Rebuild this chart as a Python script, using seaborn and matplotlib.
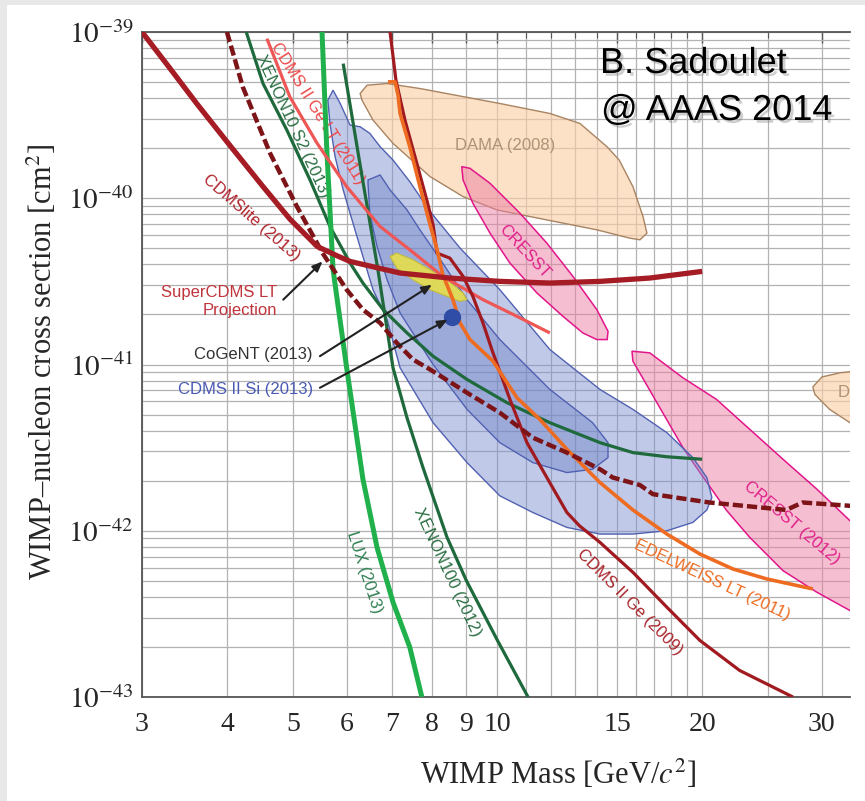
import numpy as np
import matplotlib
matplotlib.use("Agg")
import matplotlib.pyplot as plt
import matplotlib.patheffects as pe
from matplotlib.patches import Rectangle
from matplotlib.colors import to_rgba
from matplotlib.ticker import FixedLocator, FuncFormatter, NullFormatter, LogLocator
import seaborn as sns

# ---------------- data (mass in GeV/c^2, cross section as log10 exponent) ----------------
cdmslite_m = [3.0, 3.30, 3.61, 4.0, 4.52, 4.95, 5.43, 5.80, 6.07, 7.19, 8.51, 10.08, 11.94, 14.15, 16.75, 20.0]
cdmslite_e = [-39.0, -39.22, -39.43, -39.66, -39.93, -40.125, -40.29, -40.345, -40.38, -40.45, -40.48, -40.50,
              -40.51, -40.50, -40.48, -40.44]

supercdms_m = [4.0, 4.22, 4.63, 5.07, 5.53, 6.0, 6.34, 6.72, 7.11, 7.51, 7.96, 9.02, 10.08, 11.27, 12.65, 13.53,
               14.15, 14.78, 16.2, 16.93, 20.5, 26.6, 28.1, 33.0, 35.3]
supercdms_e = [-39.0, -39.33, -39.73, -40.05, -40.33, -40.55, -40.67, -40.75, -40.87, -40.97, -41.03, -41.17, -41.29,
               -41.44, -41.53, -41.59, -41.63, -41.68, -41.725, -41.78, -41.83, -41.875, -41.83, -41.85, -41.85]

xenon10_m = [4.27, 4.52, 4.90, 5.30, 5.67, 6.07, 6.34, 6.79, 7.36, 8.04, 9.02, 10.33, 11.94, 14.15, 15.82, 17.75, 20.0]
xenon10_e = [-39.0, -39.31, -39.59, -39.89, -40.17, -40.39, -40.51, -40.67, -40.81, -40.95, -41.09, -41.23, -41.35,
             -41.47, -41.53, -41.555, -41.57]

xenon100_m = [5.93, 6.28, 6.67, 7.02, 7.36, 7.77, 8.43, 9.0, 10.0, 11.09]
xenon100_e = [-39.19, -39.80, -40.43, -41.02, -41.32, -41.62, -42.04, -42.30, -42.66, -43.0]

lux_m = [5.52, 5.61, 5.73, 6.0, 6.34, 6.65, 7.02, 7.43, 7.74]
lux_e = [-39.0, -39.71, -40.43, -41.02, -41.69, -42.10, -42.43, -42.70, -43.0]

gelt_m = [4.58, 4.95, 5.43, 6.0, 6.72, 7.43, 8.31, 9.52, 10.68, 11.94]
gelt_e = [-39.04, -39.39, -39.67, -39.93, -40.17, -40.31, -40.47, -40.61, -40.71, -40.81]

ge09_m = [6.95, 7.09, 7.31, 7.61, 7.87, 8.04, 8.15, 8.51, 8.90, 9.20, 9.52, 9.81, 10.43, 11.05, 11.82, 12.65, 13.2,
          14.15, 15.82, 17.75, 19.85, 22.7, 27.2]
ge09_e = [-39.0, -39.29, -39.53, -39.79, -40.01, -40.16, -40.33, -40.36, -40.47, -40.59, -40.75, -40.91, -41.21,
          -41.47, -41.68, -41.89, -41.97, -42.07, -42.25, -42.46, -42.66, -42.84, -43.0]

edel_m = [6.90, 7.07, 7.14, 7.19, 7.43, 7.69, 7.96, 8.15, 8.31, 8.60, 8.81, 9.11, 9.85, 10.68, 11.54, 12.65, 14.15,
          15.82, 17.75, 19.85, 22.2, 24.9, 29.1]
edel_e = [-39.30, -39.30, -39.38, -39.49, -39.69, -39.93, -40.16, -40.31, -40.46, -40.61, -40.75, -40.85, -40.98,
          -41.20, -41.33, -41.51, -41.71, -41.875, -42.02, -42.14, -42.23, -42.29, -42.35]

dama_m = [6.28, 6.43, 6.88, 7.69, 10.08, 11.94, 13.22, 14.49, 15.1, 15.82, 16.37, 16.59, 16.2, 15.66, 14.0, 11.16,
          9.98, 8.90, 7.96, 7.02, 6.56, 6.32]
dama_e = [-39.37, -39.32, -39.31, -39.34, -39.43, -39.49, -39.55, -39.69, -39.77, -39.93, -40.11, -40.21, -40.25,
          -40.24, -40.19, -40.11, -40.07, -39.99, -39.87, -39.67, -39.53, -39.41]

dama2_m = [29.1, 30.0, 31.9, 35.3, 35.3, 33.0, 30.8, 29.3]
dama2_e = [-41.135, -41.075, -41.05, -41.03, -41.39, -41.35, -41.27, -41.18]

cresst_m = [8.86, 9.11, 9.75, 10.79, 11.82, 12.91, 14.0, 14.54, 14.5, 14.0, 13.35, 12.48, 11.43, 10.43, 9.75, 9.20, 8.90]
cresst_e = [-39.81, -39.82, -39.91, -40.09, -40.27, -40.47, -40.67, -40.80, -40.85, -40.85, -40.81, -40.71, -40.57,
            -40.39, -40.21, -40.03, -39.89]

cresst12_m = [15.77, 16.75, 18.74, 21.0, 23.5, 26.3, 29.5, 33.0, 36.5, 36.5, 33.0, 29.5, 26.3, 23.5, 21.7, 19.85,
              18.74, 17.33, 16.4, 15.82]
cresst12_e = [-40.92, -40.93, -41.08, -41.21, -41.39, -41.57, -41.75, -41.94, -42.09, -42.57, -42.48, -42.37, -42.24,
              -42.04, -41.875, -41.65, -41.50, -41.26, -41.09, -40.98]

si_out_m = [5.73, 5.87, 6.07, 6.28, 6.49, 6.72, 7.02, 7.43, 7.96, 8.81, 10.08, 11.94, 14.15, 15.82, 17.75, 19.38,
            20.32, 20.67, 20.32, 19.38, 17.75, 15.82, 14.15, 12.65, 11.27, 10.08, 9.02, 8.04, 7.19, 6.88, 6.56, 6.34,
            6.13, 5.93, 5.77, 5.67, 5.63]
si_out_e = [-39.35, -39.43, -39.56, -39.57, -39.61, -39.69, -39.77, -39.90, -40.08, -40.30, -40.55, -40.91, -41.15,
            -41.27, -41.41, -41.56, -41.68, -41.80, -41.875, -41.95, -42.0, -42.02, -42.02, -41.98, -41.89, -41.79,
            -41.59, -41.35, -41.02, -40.73, -40.55, -40.35, -40.15, -39.95, -39.75, -39.55, -39.41]

si_in_m = [6.45, 6.72, 6.95, 7.36, 7.69, 8.15, 9.02, 10.08, 11.94, 13.8, 14.54, 14.54, 13.8, 12.65, 11.27, 10.08,
           9.02, 8.04, 7.19, 6.88, 6.65, 6.49, 6.45]
si_in_e = [-39.89, -39.86, -39.95, -40.07, -40.19, -40.34, -40.61, -40.85, -41.15, -41.35, -41.47, -41.56, -41.63,
           -41.65, -41.59, -41.47, -41.27, -41.00, -40.69, -40.49, -40.29, -40.09, -39.91]

cogent_m = [6.95, 7.11, 7.51, 7.96, 8.43, 8.90, 9.02, 8.81, 8.43, 7.96, 7.51, 7.11]
cogent_e = [-40.35, -40.33, -40.37, -40.43, -40.49, -40.57, -40.61, -40.62, -40.59, -40.55, -40.49, -40.42]

si_best_m = [8.57]
si_best_e = [-40.714]

x_major = [3, 4, 5, 6, 7, 8, 9, 10, 15, 20, 30]
x_minor = [11, 12, 13, 14, 16, 17, 18, 19, 25]
y_major_exp = [-43, -42, -41, -40, -39]

# ---------------- figure ----------------
sns.set_style("white")
plt.rcParams["font.family"] = ["Liberation Serif", "DejaVu Serif"]
plt.rcParams["mathtext.fontset"] = "stix"
SANS = ["Liberation Sans", "DejaVu Sans"]

fig = plt.figure(figsize=(8.65, 8.01), dpi=100)
fig.patch.set_facecolor("#e8e8e8")
fig.add_artist(Rectangle((7 / 865, 0), 1, 1 - 5 / 801, transform=fig.transFigure,
                         facecolor="white", edgecolor="none", zorder=-5))

ax = fig.add_axes([142 / 865, 104 / 801, 708 / 865, 665 / 801])
ax.set_facecolor("white")
ax.set_xscale("log")
ax.set_yscale("log")
ax.set_xlim(3, 33.0)
ax.set_ylim(1e-43, 1e-39)


def P(e):
    return 10.0 ** np.asarray(e, dtype=float)


# ---- filled regions ----
def region(m, e, face, alpha, edge, lw=1.0, z=1.0):
    ax.fill(m, P(e), facecolor=to_rgba(face, alpha), edgecolor=edge, lw=lw, zorder=z)


region(dama_m, dama_e, "#fbcfa6", 0.62, "#a88462", 1.0, 1.0)
region(dama2_m, dama2_e, "#fbcfa6", 0.62, "#a88462", 1.0, 1.0)
region(cresst_m, cresst_e, "#ee7fa5", 0.5, "#e2168a", 1.1, 1.1)
region(cresst12_m, cresst12_e, "#ee7fa5", 0.5, "#e2168a", 1.1, 1.1)
region(si_out_m, si_out_e, "#7f8fd0", 0.48, "#5161b2", 1.0, 1.2)
region(si_in_m, si_in_e, "#6a80c8", 0.42, "#5161b2", 1.0, 1.3)
region(cogent_m, cogent_e, "#e6df4a", 0.9, "#c4bb3a", 0.8, 1.4)

# ---- limit curves ----
def curve(m, e, color, lw, z=3, **kw):
    sns.lineplot(x=m, y=P(e), ax=ax, color=color, lw=lw, sort=False, estimator=None,
                 zorder=z, solid_capstyle="butt", solid_joinstyle="round", **kw)


curve(xenon10_m, xenon10_e, "#1e6a3c", 2.3)
curve(xenon100_m, xenon100_e, "#1e6a3c", 2.3)
curve(lux_m, lux_e, "#20b14c", 3.6)
curve(gelt_m, gelt_e, "#ef5656", 2.3)
curve(ge09_m, ge09_e, "#a11a20", 2.3)
curve(edel_m, edel_e, "#ee6c22", 2.6)
curve(supercdms_m, supercdms_e, "#7c1418", 3.2, linestyle=(0, (2.3, 0.9)))
curve(cdmslite_m, cdmslite_e, "#a61c25", 3.8)

ax.plot(si_best_m, P(si_best_e), "o", ms=11.5, color="#2f4da6", zorder=5)

# ---- ticks, grid, spines ----
ax.xaxis.set_major_locator(FixedLocator(x_major))
ax.xaxis.set_minor_locator(FixedLocator(x_minor))
ax.xaxis.set_major_formatter(FuncFormatter(lambda v, p: f"{v:g}"))
ax.xaxis.set_minor_formatter(NullFormatter())
ax.yaxis.set_major_locator(FixedLocator(P(y_major_exp)))
ax.yaxis.set_minor_locator(LogLocator(base=10, subs=np.arange(2, 10), numticks=20))
ax.yaxis.set_major_formatter(FuncFormatter(lambda v, p: r"$10^{%d}$" % round(np.log10(v))))
ax.yaxis.set_minor_formatter(NullFormatter())

ax.tick_params(axis="x", which="major", direction="in", length=8, width=1, color="#555555",
               labelsize=20, pad=11, top=True)
ax.tick_params(axis="x", which="minor", direction="in", length=4, width=0.8, color="#555555", top=True)
ax.tick_params(axis="y", which="major", direction="inout", length=8, width=1, color="#555555",
               labelsize=21, pad=2)
ax.tick_params(axis="y", which="minor", direction="in", length=4, width=0.8, color="#555555")

ax.grid(which="both", color="#b2b2b2", lw=0.9)
ax.set_axisbelow(True)
for s in ["left", "bottom", "top"]:
    ax.spines[s].set_color("#555555")
    ax.spines[s].set_linewidth(1.3)
ax.spines["right"].set_visible(False)

ax.set_xlabel(r"WIMP Mass [GeV/$c^2$]", fontsize=22)
ax.xaxis.label.set_va("center")
ax.xaxis.set_label_coords((558 - 142) / 708, -0.117)
ax.set_ylabel(r"WIMP–nucleon cross section [cm$^2$]", fontsize=22)
ax.yaxis.label.set_va("center")
ax.yaxis.set_label_coords((42 - 142) / 708, 0.504)

# ---- curve labels ----
def label(txt, m, e, rot, color, size=12, ha="center", clip=False):
    ax.text(m, 10.0 ** e, txt, rotation=rot, rotation_mode="anchor", ha=ha, va="center",
            color=color, fontsize=size, family=SANS, zorder=2.5, clip_on=clip)


label("CDMSlite (2013)", 4.35, -40.12, -41, "#b0242c")
label("CDMS II Ge LT (2011)", 5.45, -39.49, -58, "#ee4848")
label("XENON10 S2 (2013)", 4.99, -39.565, -65, "#2a6e42")
label("DAMA (2008)", 10.25, -39.68, 0, "#b09274")
label("CRESST", 10.94, -40.32, -47, "#e0208a")
label("CRESST (2012)", 27.1, -41.95, -40, "#e0208a")
label("EDELWEISS LT (2011)", 20.7, -42.30, -25, "#ee6c22")
label("CDMS II Ge (2009)", 15.66, -42.43, -45, "#a8242a")
label("LUX (2013)", 6.38, -42.25, -72, "#2d7f50")
label("XENON100 (2012)", 8.43, -42.25, -65, "#2a6e42")
label("DAMA (2008)", 31.7, -41.17, 0, "#b09274", ha="left", clip=True)

# ---- annotations with arrows ----
ax.text(4.74, 10 ** -40.624, "SuperCDMS LT\nProjection", ha="right", va="center", multialignment="right",
        color="#c0343c", fontsize=12, family=SANS, linespacing=1.25, zorder=6)
ax.text(5.35, 10 ** -40.94, "CoGeNT (2013)", ha="right", va="center", color="#333333", fontsize=12,
        family=SANS, zorder=6)
ax.text(5.35, 10 ** -41.15, "CDMS II Si (2013)", ha="right", va="center", color="#4a5ab4", fontsize=12,
        family=SANS, zorder=6)

arrow_kw = dict(arrowstyle="-|>,head_length=0.6,head_width=0.25", color="#222222", lw=1.5,
                shrinkA=0, shrinkB=0)
ax.annotate("", xy=(5.53, 10 ** -40.38), xytext=(4.84, 10 ** -40.61), arrowprops=arrow_kw, zorder=6)
ax.annotate("", xy=(8.01, 10 ** -40.52), xytext=(5.48, 10 ** -40.95), arrowprops=arrow_kw, zorder=6)
ax.annotate("", xy=(8.45, 10 ** -40.73), xytext=(5.48, 10 ** -41.14), arrowprops=arrow_kw, zorder=6)

# ---- credit ----
shadow = [pe.SimplePatchShadow(offset=(2, -2), shadow_rgbFace="#777777", alpha=0.35), pe.Normal()]
fig.text(600 / 865, 1 - 73 / 801, "B. Sadoulet", fontsize=26, family=SANS, color="black",
         va="baseline", ha="left", path_effects=shadow)
fig.text(601 / 865, 1 - 120 / 801, "@ AAAS 2014", fontsize=26, family=SANS, color="black",
         va="baseline", ha="left", path_effects=shadow)

fig.savefig("out.png", dpi=100, facecolor=fig.get_facecolor())
